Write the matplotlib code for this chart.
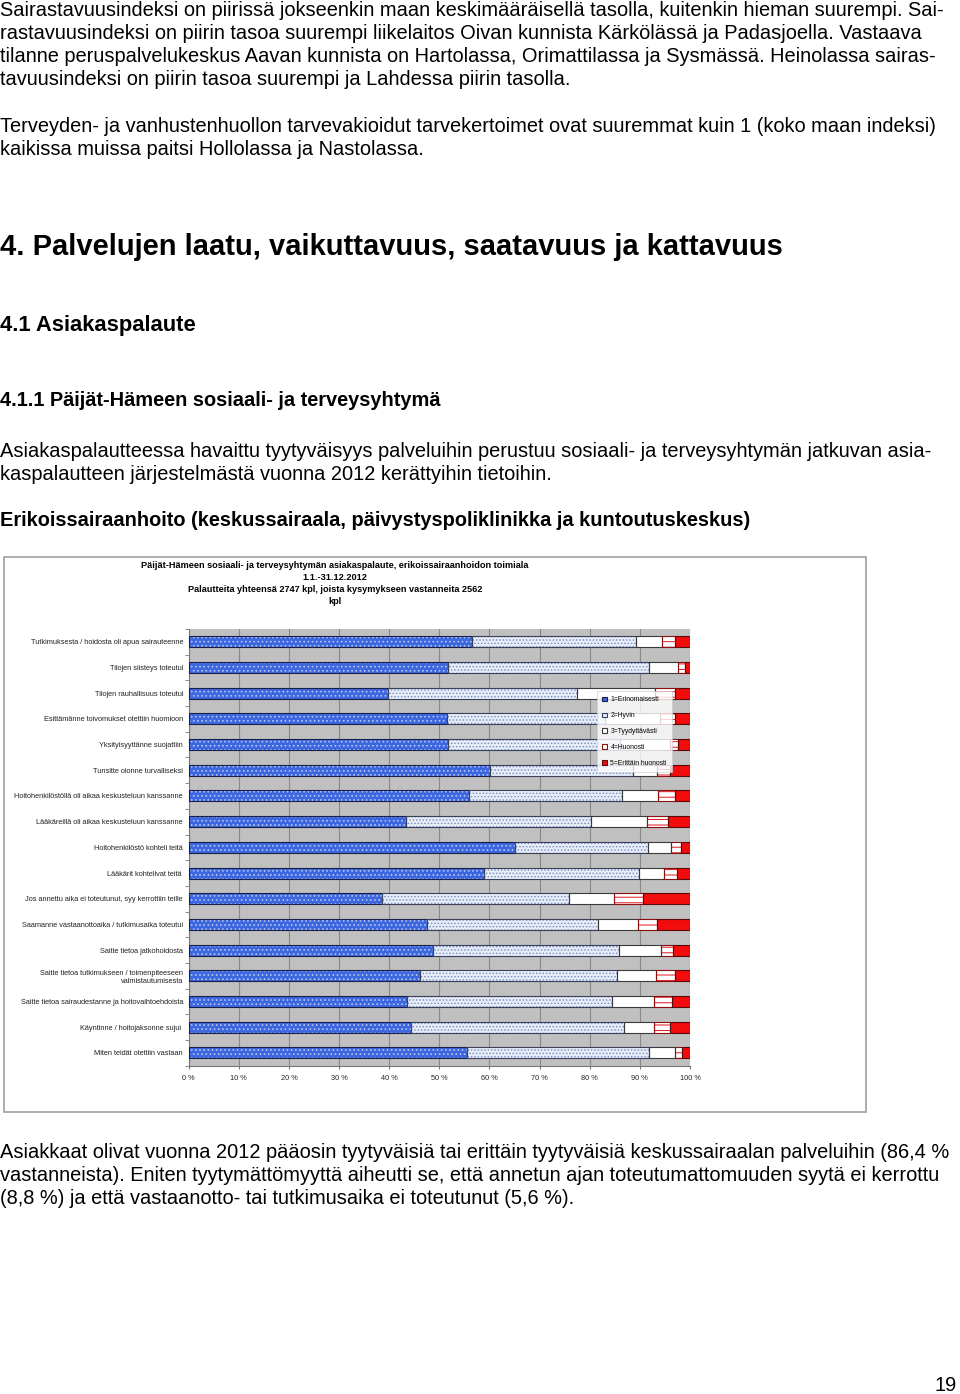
import numpy as np
import matplotlib
matplotlib.use("Agg")
import matplotlib.pyplot as plt
from matplotlib.patches import Patch, Rectangle

plt.rcParams['font.family'] = ['Liberation Sans', 'DejaVu Sans']
plt.rcParams['hatch.linewidth'] = 0.7

# --- data (percent of respondents) ---
categories = [
    "Tutkimuksesta / hoidosta oli apua sairauteenne",
    "Tilojen siisteys toteutui",
    "Tilojen rauhallisuus toteutui",
    "Esittämänne toivomukset otettiin huomioon",
    "Yksityisyyttänne suojattiin",
    "Tunsitte olonne turvalliseksi",
    "Hoitohenkilöstöllä oli aikaa keskusteluun kanssanne",
    "Lääkäreillä oli aikaa keskusteluun kanssanne",
    "Hoitohenkilöstö kohteli teitä",
    "Lääkärit kohtelivat teitä ",
    "Jos annettu aika ei toteutunut, syy kerrottiin teille",
    "Saamanne vastaanottoaika / tutkimusaika toteutui",
    "Saitte tietoa jatkohoidosta",
    "Saitte tietoa tutkimukseen / toimenpiteeseen\nvalmistautumisesta",
    "Saitte tietoa sairaudestanne ja hoitovaihtoehdoista",
    "Käyntinne / hoitojaksonne sujui ",
    "Miten teidät otettiin vastaan",
]
erinomaisesti = [56.5, 51.8, 39.7, 51.5, 51.8, 60.1, 56.0, 43.3, 65.0, 59.0, 38.6, 47.6, 48.7, 46.2, 43.6, 44.3, 55.5]
hyvin = [32.7, 40.1, 37.7, 31.5, 34.2, 28.5, 30.5, 37.0, 26.7, 30.9, 37.3, 34.1, 37.2, 39.2, 40.8, 42.6, 36.4]
tyydyttavasti = [5.3, 5.8, 15.6, 11.0, 10.0, 4.9, 7.1, 11.2, 4.5, 5.0, 9.0, 7.9, 8.3, 7.8, 8.5, 6.0, 5.2]
huonosti = [2.5, 1.3, 4.0, 3.0, 1.6, 2.5, 3.5, 4.1, 2.0, 2.5, 5.8, 3.9, 2.5, 3.9, 3.6, 3.1, 1.4]
erittain_huonosti = [3.0, 1.0, 3.0, 3.0, 2.4, 4.0, 2.9, 4.4, 1.8, 2.6, 9.3, 6.5, 3.3, 2.9, 3.5, 4.0, 1.5]
series_labels = ["1=Erinomaisesti", "2=Hyvin", "3=Tyydyttävästi", "4=Huonosti", "5=Erittäin huonosti"]
xtick_labels = ["0 %", "10 %", "20 %", "30 %", "40 %", "50 %", "60 %", "70 %", "80 %", "90 %", "100 %"]

# (face, hatch, hatch colour, outline)
styles = [
    ("#3d67de", "....", "#b4c6f5", "#1a1f4a"),
    ("#e8eef9", ".....", "#7d93c4", "#3a3f5a"),
    ("white", None, None, "#3a3a3a"),
    ("white", "---", "#e0141c", "#8a1010"),
    ("#f20c0c", None, None, "#5a0a0a"),
]

W, H = 960, 1394
fig = plt.figure(figsize=(W / 100, H / 100), dpi=100)


def fx(x):
    return x / W


def fy(y):
    return 1 - y / H


def line(x, y, s, size, bold=False, ha='left', va='baseline'):
    fig.text(fx(x), fy(y), s, fontsize=size, fontweight='bold' if bold else 'normal',
             ha=ha, va=va, color='black')


# --- page text ---
body = 14.45
line(0, 16, "Sairastavuusindeksi on piirissä jokseenkin maan keskimääräisellä tasolla, kuitenkin hieman suurempi. Sai-", body)
line(0, 39, "rastavuusindeksi on piirin tasoa suurempi liikelaitos Oivan kunnista Kärkölässä ja Padasjoella. Vastaava", body)
line(0, 62, "tilanne peruspalvelukeskus Aavan kunnista on Hartolassa, Orimattilassa ja Sysmässä. Heinolassa sairas-", body)
line(0, 85, "tavuusindeksi on piirin tasoa suurempi ja Lahdessa piirin tasolla.", body)
line(0, 132, "Terveyden- ja vanhustenhuollon tarvevakioidut tarvekertoimet ovat suuremmat kuin 1 (koko maan indeksi)", body)
line(0, 155, "kaikissa muissa paitsi Hollolassa ja Nastolassa.", body)
line(0, 255, "4. Palvelujen laatu, vaikuttavuus, saatavuus ja kattavuus", 21.0, bold=True)
line(0, 331, "4.1 Asiakaspalaute", 15.8, bold=True)
line(0, 406, "4.1.1 Päijät-Hämeen sosiaali- ja terveysyhtymä", 14.45, bold=True)
line(0, 457, "Asiakaspalautteessa havaittu tyytyväisyys palveluihin perustuu sosiaali- ja terveysyhtymän jatkuvan asia-", body)
line(0, 480, "kaspalautteen järjestelmästä vuonna 2012 kerättyihin tietoihin.", body)
line(0, 526, "Erikoissairaanhoito (keskussairaala, päivystyspoliklinikka ja kuntoutuskeskus)", 14.45, bold=True)
line(0, 1158, "Asiakkaat olivat vuonna 2012 pääosin tyytyväisiä tai erittäin tyytyväisiä keskussairaalan palveluihin (86,4 %", body)
line(0, 1181, "vastanneista). Eniten tyytymättömyyttä aiheutti se, että annetun ajan toteutumattomuuden syytä ei kerrottu", body)
line(0, 1204, "(8,8 %) ja että vastaanotto- tai tutkimusaika ei toteutunut (5,6 %).", body)
line(957, 1391, "19", body, ha='right')

# chart frame
fig.patches.append(Rectangle((fx(4), fy(1112)), fx(866) - fx(4), fy(557) - fy(1112),
                             transform=fig.transFigure, fill=False, edgecolor='#a0a0a0', lw=1.2))

# chart title
title_lines = ["Päijät-Hämeen sosiaali- ja terveysyhtymän asiakaspalaute, erikoissairaanhoidon toimiala",
               "1.1.-31.12.2012",
               "Palautteita yhteensä 2747 kpl, joista kysymykseen vastanneita 2562",
               "kpl"]
for i, t in enumerate(title_lines):
    line(335, 566 + 12 * i, t, 6.6, bold=True, ha='center', va='center')

# --- bar chart ---
ax = fig.add_axes([fx(188.6), fy(1065.7), fx(690) - fx(188.6), fy(629) - fy(1065.7)])
ax.set_facecolor('#c0c0c0')
y = np.arange(len(categories))
data = [erinomaisesti, hyvin, tyydyttavasti, huonosti, erittain_huonosti]
left = np.zeros(len(categories))
bh = 0.43
for vals, (face, hatch, hcol, edge) in zip(data, styles):
    vals = np.array(vals)
    ax.barh(y, vals, left=left, height=bh, color=face, edgecolor='none', lw=0, zorder=3)
    if hatch:
        ax.barh(y, vals, left=left, height=bh, fill=False, edgecolor=hcol, hatch=hatch, lw=0, zorder=4)
    ax.barh(y, vals, left=left, height=bh, fill=False, edgecolor=edge, lw=0.8, zorder=5)
    left += vals

ax.set_xlim(0, 100)
ax.set_ylim(len(categories) - 0.5, -0.5)
ax.set_xticks(np.arange(0, 101, 10))
ax.set_xticklabels(xtick_labels, fontsize=5.3, color='#222222')
ax.set_yticks(y)
ax.set_yticklabels(categories, fontsize=5.3, color='#222222')
ax.set_yticks(np.arange(-0.5, len(categories), 1), minor=True)
ax.tick_params(axis='y', which='major', length=0, pad=4)
ax.tick_params(axis='y', which='minor', length=3, color='#777777', width=0.6)
ax.tick_params(axis='x', length=2, color='#777777', pad=5)
ax.grid(axis='x', color='#888888', lw=0.8, zorder=1)
ax.set_axisbelow(True)
for s in ['top', 'right']:
    ax.spines[s].set_visible(False)
ax.spines['left'].set_color('#777777')
ax.spines['bottom'].set_color('#777777')

handles = []
for face, hatch, hcol, edge in styles:
    handles.append(Patch(facecolor=face, edgecolor=edge, lw=0.8))
leg = ax.legend(handles, series_labels, loc='upper left', bbox_to_anchor=(0.814, 0.858),
                fontsize=4.9, frameon=True, fancybox=False, borderpad=0.8,
                labelspacing=1.3, handlelength=0.7, handleheight=0.7, handletextpad=0.5,
                borderaxespad=0)
leg.get_frame().set_edgecolor('#cccccc')
leg.get_frame().set_linewidth(0.6)
leg.set_zorder(10)

fig.savefig("out.png", dpi=100)
